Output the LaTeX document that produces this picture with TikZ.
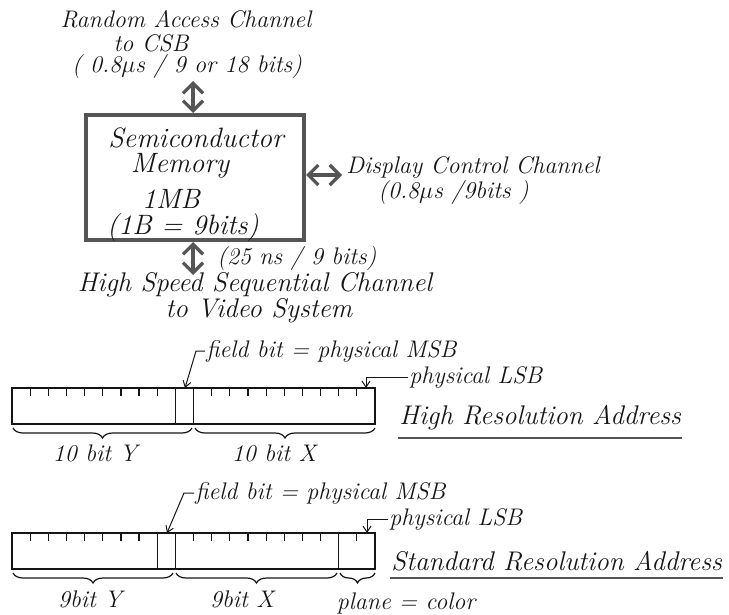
\documentclass[tikz,border=0pt]{standalone}
\usepackage{amsmath}
\usetikzlibrary{arrows.meta,positioning,decorations.pathreplacing}
\definecolor{ink}{HTML}{151515}
\definecolor{heavy}{HTML}{555555}
\tikzset{
  hand/.style={font=\fontsize{12}{14}\selectfont\itshape, text=ink, inner sep=0.5pt},
  handL/.style={font=\fontsize{13.5}{15}\selectfont\itshape, text=ink, inner sep=0.5pt},
  boxtxt/.style={font=\fontsize{14}{16}\selectfont\itshape, text=ink, inner sep=0.5pt},
  membox/.style={draw=heavy, line width=2pt, minimum width=109pt, minimum height=62.5pt},
  chan/.style={{Straight Barb[length=5pt,width=10pt]}-{Straight Barb[length=5pt,width=10pt]}, draw=heavy, line width=1.6pt},
  cellrow/.style={draw=ink, line width=0.6pt},
  bittick/.style={draw=ink, line width=0.6pt},
  lead/.style={-{Straight Barb[length=3pt,width=4pt]}, draw=ink, line width=0.5pt},
  brc/.style={decorate, decoration={brace, mirror, amplitude=#1}, draw=ink, line width=0.6pt},
  brc/.default=5pt,
  uline/.style={draw=heavy, line width=1.1pt},
}
\newcommand{\cellw}{18.15}
% one address register: top y, full dividers, short ticks
\newcommand{\regrow}[3]{%
  \draw[cellrow] (12,#1) rectangle ({12+20*\cellw},{#1+36});
  \foreach \k in {#2} \draw[cellrow] ({12+\k*\cellw},#1) -- ++(0,36);
  \foreach \k in {#3} \draw[bittick] ({12+\k*\cellw},#1) -- ++(0,8);}

\begin{document}
\begin{tikzpicture}[x=0.5pt,y=-0.5pt]
  \useasboundingbox (0,0) rectangle (729,615);
  % memory and its channels
  \node[membox] (mem) at (195,177.5) {};
  \node[boxtxt] (memA) at (196,138) {Semiconductor};
  \node[boxtxt] (memB) at (180,166) {Memory};
  \node[boxtxt] (memC) at (171,199) {1MB};
  \node[boxtxt] (memD) at (183,228) {(1B = 9bits)};

  \node[hand] (rac1) at (186,19) {Random Access Channel};
  \node[hand] (rac2) at (151,43) {to CSB};
  \node[hand] (rac3) at (187,67) {( 0.8$\mu$s / 9 or 18 bits)};
  \coordinate (topend) at (193,81);
  \draw[chan] (mem.north -| topend) -- (topend);

  \node[hand, anchor=west] (dcc1) at (345,168) {Display Control Channel};
  \node[hand, anchor=west] (dcc2) at (377,193) {(0.8$\mu$s /9bits )};
  \coordinate (rightend) at (342,175);
  \draw[chan] (mem.east |- rightend) -- (rightend);

  \node[hand, anchor=west] (hss0) at (216,259) {(25 ns / 9 bits)};
  \node[handL] (hss1) at (255,285) {High Speed Sequential Channel};
  \node[handL] (hss2) at (259,311) {to Video System};
  \coordinate (botend) at (193,275);
  \draw[chan] (mem.south -| botend) -- (botend);

  % high resolution address
  \regrow{388}{9,10}{1,...,8,11,12,...,19}
  \node[hand, anchor=west] (fb1) at (205,351) {field bit = physical MSB};
  \coordinate (fbtip1) at (185,388);
  \draw[lead] (fb1.west) -- ++(-9,0) -- (fbtip1);
  \node[hand, anchor=west] (lsb1) at (408,377) {physical LSB};
  \coordinate (lsbtip1) at (366,388);
  \draw[lead] (lsb1.west) -| (lsbtip1);
  \node[handL, anchor=west] (hra) at (398,418) {High Resolution Address};
  \draw[uline] (hra.west |- 0,438) -- (hra.east |- 0,438);
  \draw[brc] (13,428) -- (192,428);
  \draw[brc] (195,428) -- (375,428);
  \node[hand] (hy) at (95,453) {10 bit Y};
  \node[hand] (hx) at (274,453) {10 bit X};

  % standard resolution address
  \regrow{533}{8,9,18}{1,...,7,10,11,...,17,19}
  \node[hand, anchor=west] (fb2) at (194,493) {field bit = physical MSB};
  \coordinate (fbtip2) at (167,533);
  \draw[lead] (fb2.west) -- ++(-10,0) -- (fbtip2);
  \node[hand, anchor=west] (lsb2) at (388,519) {physical LSB};
  \coordinate (lsbtip2) at (367,533);
  \draw[lead] (lsb2.west) -| (lsbtip2);
  \node[handL, anchor=west] (sra) at (390,561) {Standard Resolution Address};
  \draw[uline] (sra.west |- 0,578) -- (sra.east |- 0,578);
  \draw[brc] (13,573) -- (173,573);
  \draw[brc] (176,573) -- (337,573);
  \draw[brc] (340,573) -- (375,573);
  \node[hand] (sy) at (90,599) {9bit Y};
  \node[hand] (sx) at (242,599) {9bit X};
  \node[hand] (sp) at (406,603) {plane = color};
\end{tikzpicture}
\end{document}
